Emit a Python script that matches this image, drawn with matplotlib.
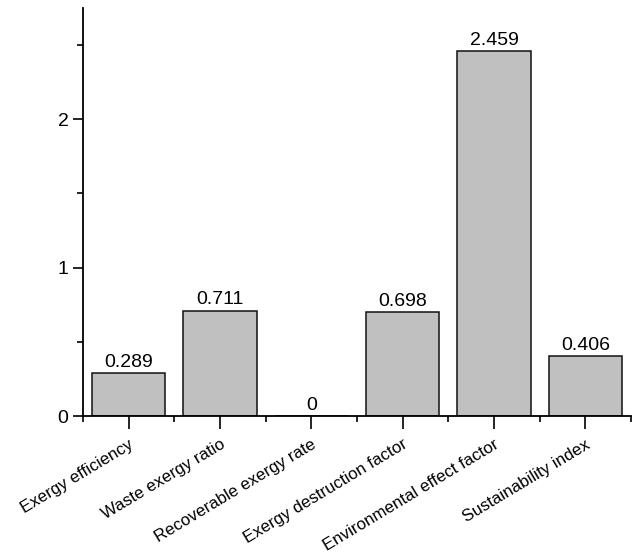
import matplotlib.pyplot as plt
from matplotlib.ticker import MultipleLocator, FixedLocator

plt.rcParams['font.family'] = ['Liberation Sans', 'DejaVu Sans']

categories = ["Exergy efficiency", "Waste exergy ratio", "Recoverable exergy rate",
              "Exergy destruction factor", "Environmental effect factor", "Sustainability index"]
values = [0.289, 0.711, 0.0, 0.698, 2.459, 0.406]
value_labels = ["0.289", "0.711", "0", "0.698", "2.459", "0.406"]

fig = plt.figure(figsize=(6.4, 5.59), dpi=100)
ax = fig.add_axes([0.1297, 0.2558, 0.8563, 0.7299])

x = list(range(len(categories)))
bars = ax.bar(x, values, width=0.8, color="#c0c0c0", edgecolor="#111111", linewidth=1.1)

for xi, v, lab in zip(x, values, value_labels):
    ax.annotate(lab, (xi, v), xytext=(0, 1.5), textcoords="offset points",
                ha="center", va="bottom", fontsize=14)

ax.set_xlim(-0.5, 5.5)
ax.set_ylim(0, 2.75)
ax.set_xticks(x)
ax.set_xticklabels(categories, rotation=31, ha="right", rotation_mode="anchor", fontsize=12.2)
ax.xaxis.set_minor_locator(FixedLocator([i + 0.5 for i in range(-1, 6)]))
ax.yaxis.set_major_locator(MultipleLocator(1))
ax.yaxis.set_minor_locator(MultipleLocator(0.5))
ax.tick_params(axis="x", which="major", direction="out", length=9, width=1.2, pad=6)
ax.tick_params(axis="y", which="major", direction="out", length=7, width=1.2, labelsize=14)
ax.tick_params(axis="both", which="minor", direction="out", length=4.5, width=1.2)

for side in ["top", "right"]:
    ax.spines[side].set_visible(False)
for side in ["left", "bottom"]:
    ax.spines[side].set_linewidth(1.3)

fig.savefig("out.png", dpi=100)
